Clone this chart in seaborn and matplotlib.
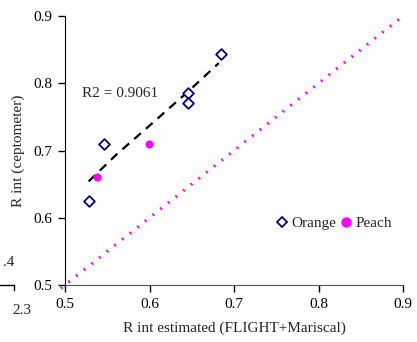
import matplotlib
matplotlib.use("Agg")
import matplotlib.pyplot as plt
import seaborn as sns
import pandas as pd
from matplotlib.lines import Line2D

# ---- data ----
orange_x = [0.528, 0.546, 0.646, 0.646, 0.685]
orange_y = [0.625, 0.710, 0.785, 0.770, 0.843]
peach_x = [0.538, 0.599]
peach_y = [0.661, 0.709]
trend_x = [0.528, 0.560, 0.600, 0.646, 0.682]
trend_y = [0.654, 0.693, 0.737, 0.788, 0.830]
one_x = [0.495, 0.90]
one_y = [0.495, 0.90]
ticks = [0.5, 0.6, 0.7, 0.8, 0.9]
tick_labels = ["0.5", "0.6", "0.7", "0.8", "0.9"]
r2_text = "R2 = 0.9061"
xlabel = "R int estimated (FLIGHT+Mariscal)"
ylabel = "R int (ceptometer)"

sns.set_style("ticks")
plt.rcParams["font.family"] = ["Liberation Serif", "DejaVu Serif"]

fig = plt.figure(figsize=(4.17, 3.42), dpi=100)
ax = fig.add_axes([65/417, 1-285/342, 338/417, 269/342])

df_o = pd.DataFrame({"x": orange_x, "y": orange_y, "fruit": "Orange"})
df_p = pd.DataFrame({"x": peach_x, "y": peach_y, "fruit": "Peach"})
df_t = pd.DataFrame({"x": trend_x, "y": trend_y})
df_1 = pd.DataFrame({"x": one_x, "y": one_y})

sns.lineplot(data=df_1, x="x", y="y", ax=ax, color="#FF00FF", lw=2.2,
             linestyle=(0, (0.6, 2.6)), clip_on=False, zorder=2)
sns.lineplot(data=df_t, x="x", y="y", ax=ax, color="black", lw=1.6,
             linestyle=(0, (4, 3)), zorder=3)
sns.scatterplot(data=df_o, x="x", y="y", ax=ax, marker="D", s=30,
                facecolor="white", edgecolor="#000080", linewidth=1.3, zorder=4)
sns.scatterplot(data=df_p, x="x", y="y", ax=ax, marker="o", s=34,
                color="#FF00FF", edgecolor="#FF00FF", linewidth=0, zorder=4)

ax.set_xlim(0.5, 0.9)
ax.set_ylim(0.5, 0.9)
ax.set_xticks(ticks)
ax.set_xticklabels(tick_labels)
ax.set_yticks(ticks)
ax.set_yticklabels(tick_labels)
ax.tick_params(labelsize=11, length=5, width=1, colors="black", pad=4)
ax.set_xlabel(xlabel, fontsize=11, labelpad=8)
ax.set_ylabel(ylabel, fontsize=11, labelpad=6)
for s in ["top", "right"]:
    ax.spines[s].set_visible(False)
ax.spines["left"].set_color("black")
ax.spines["bottom"].set_color("#555555")

ax.text(0.05, 0.713, r2_text, transform=ax.transAxes, fontsize=11, va="center", ha="left")

handles = [
    Line2D([], [], marker="D", ls="none", markersize=5.4, markerfacecolor="white",
           markeredgecolor="#000080", markeredgewidth=1.3),
    Line2D([], [], marker="o", ls="none", markersize=6.5, markerfacecolor="#FF00FF",
           markeredgecolor="#FF00FF"),
]
ax.legend(handles, ["Orange", "Peach"], ncol=2, frameon=False, fontsize=11,
          loc="center left", bbox_to_anchor=(0.603, 0.23), handlelength=0.7,
          handletextpad=0.27, columnspacing=0.27, borderpad=0)

# fragments of neighbouring chart
fig.text(3/417, 1-262/342, ".4", fontsize=11, va="center", ha="left")
fig.text(12/417, 1-310/342, "2.3", fontsize=11, va="center", ha="left")
fig.add_artist(Line2D([0, 14/417, 14/417], [1-285/342, 1-285/342, 1-290/342],
                      transform=fig.transFigure, color="black", lw=1))

fig.savefig("out.png", dpi=100)
